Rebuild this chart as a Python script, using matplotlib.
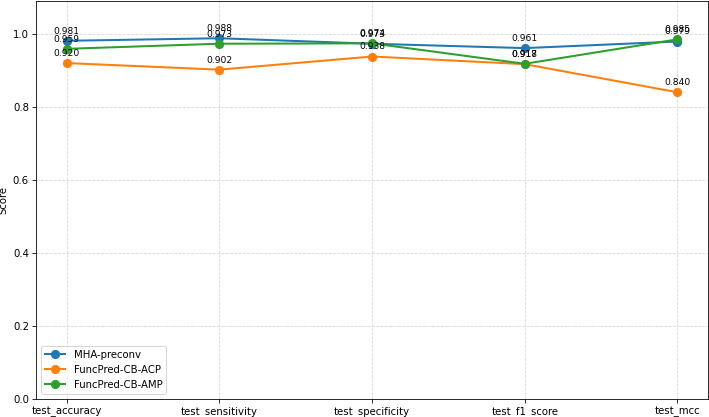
import matplotlib
matplotlib.use("Agg")
import matplotlib.pyplot as plt

metrics = ["test_accuracy", "test_sensitivity", "test_specificity", "test_f1_score", "test_mcc"]
mha_preconv = [0.981, 0.988, 0.973, 0.961, 0.979]
funcpred_acp = [0.920, 0.902, 0.938, 0.917, 0.840]
funcpred_amp = [0.959, 0.973, 0.974, 0.918, 0.985]

series = [
    ("MHA-preconv", mha_preconv),
    ("FuncPred-CB-ACP", funcpred_acp),
    ("FuncPred-CB-AMP", funcpred_amp),
]

dpi = 73
fig = plt.figure(figsize=(709 / dpi, 417 / dpi), dpi=dpi)
ax = fig.add_axes([36 / 709, 18 / 417, 672 / 709, 398 / 417])

for name, vals in series:
    ax.plot(metrics, vals, marker="o", markersize=8, linewidth=2, label=name)
    for x, v in zip(metrics, vals):
        ax.annotate(f"{v:.3f}", (x, v), textcoords="offset points", xytext=(0, 7),
                    ha="center", fontsize=9)

ax.set_ylabel("Score")
ax.set_ylim(0, 1.09)
ax.grid(True, linestyle="--", alpha=0.5)
ax.legend(loc="lower left")

plt.savefig("out.png", dpi=dpi)
